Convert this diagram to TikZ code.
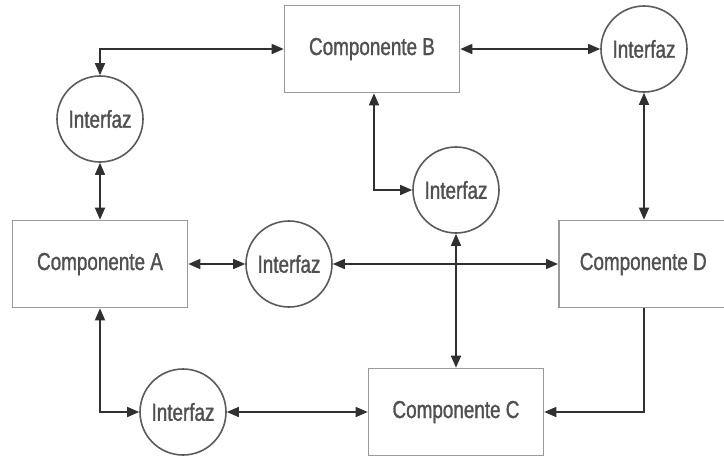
\documentclass[tikz,border=0pt]{standalone}
\usepackage{fontspec}
\setmainfont{Liberation Sans}[FakeStretch=0.77, FakeBold=1.2]
\usetikzlibrary{arrows.meta}
\definecolor{boxgray}{HTML}{9A9A9A}
\definecolor{circgray}{HTML}{5A5A5A}
\definecolor{linegray}{HTML}{303030}
\definecolor{textgray}{HTML}{505050}
\begin{document}
\begin{tikzpicture}[x=1pt,y=-1pt,
  comp/.style={draw=boxgray, line width=1.6pt, fill=white, rectangle,
    minimum width=175pt, minimum height=87pt, inner sep=0pt,
    font=\fontsize{24.5}{28}\selectfont, text=textgray},
  iface/.style={draw=circgray, line width=1.6pt, fill=white, circle,
    minimum size=86pt, inner sep=0pt,
    font=\fontsize{24.5}{28}\selectfont, text=textgray},
  link/.style={draw=linegray, line width=1.5pt},
  both/.style={link, {Triangle[length=12pt,width=10pt]}-{Triangle[length=12pt,width=10pt]}},
  fwd/.style={link, -{Triangle[length=12pt,width=10pt]}}]
\useasboundingbox (0,0) rectangle (724,456);

% components
\node[comp] (B) at (372,49) {Componente B};
\node[comp] (A) at (100,264) {Componente A};
\node[comp, minimum width=185pt, anchor=west] (D) at (558,264) {\hspace*{-16pt}Componente D};
\node[comp] (C) at (456,412) {Componente C};

% interfaces
\node[iface] (I1) at (100,119) {Interfaz};
\node[iface] (I2) at (644,49) {Interfaz};
\node[iface] (I3) at (456,190) {Interfaz};
\node[iface] (I4) at (289,264) {Interfaz};
\node[iface] (I5) at (183,412) {Interfaz};

% connectors
\draw[both] (B.west) -| (I1.north);
\draw[both] (B.east) -- (I2.west);
\draw[both] (I1.south) -- (A.north);
\draw[both] (A.east) -- (I4.west);
\draw[both] (I4.east) -- (D.west);
\draw[both] ([xshift=2pt]B.south) |- (I3.west);
\draw[both] (I3.south) -- (C.north);
\draw[both] (I2.south) -- (I2.south |- D.north);
\draw[fwd] (I2.south |- D.south) |- (C.east);
\draw[both] (A.south) |- (I5.west);
\draw[both] (I5.east) -- (C.west);
\end{tikzpicture}
\end{document}
